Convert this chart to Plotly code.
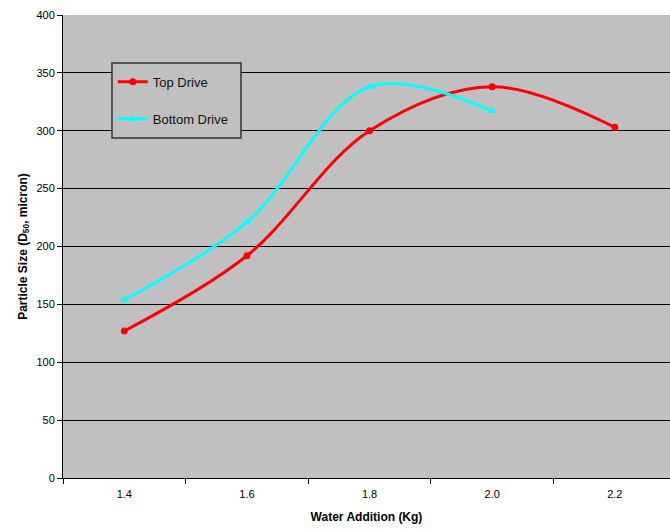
import plotly.graph_objects as go

categories = [1.4, 1.6, 1.8, 2.0, 2.2]
tick_labels = ["1.4", "1.6", "1.8", "2.0", "2.2"]
top_x = [1.4, 1.6, 1.8, 2.0, 2.2]
top_y = [127, 192, 300, 338, 303]
bottom_x = [1.4, 1.6, 1.8, 2.0]
bottom_y = [154, 221, 338, 317]

fig = go.Figure()
fig.add_trace(go.Scatter(
    x=top_x, y=top_y, name="Top Drive", mode="lines+markers",
    line=dict(color="#FF0000", width=3, shape="spline", smoothing=1.0),
    marker=dict(symbol="circle", size=7, color="#FF0000"),
    legendgroup="a",
))
fig.add_trace(go.Scatter(
    x=bottom_x, y=bottom_y, name="Bottom Drive", mode="lines+markers",
    line=dict(color="#00FFFF", width=3, shape="spline", smoothing=1.0),
    marker=dict(symbol="triangle-up", size=8, color="#00FFFF"),
    legendgroup="b",
))

# legend frame
fig.add_shape(type="rect", xref="paper", yref="paper",
              x0=0.0807, x1=0.2932, y0=0.7343, y1=0.8963,
              fillcolor="#C0C0C0", line=dict(color="#333333", width=1.5),
              layer="above")

font_family = "Liberation Sans, Arial, sans-serif"
fig.update_layout(
    width=670, height=529,
    margin=dict(l=63, r=0, t=15, b=51),
    paper_bgcolor="white", plot_bgcolor="#C0C0C0",
    font=dict(family=font_family, size=11, color="black"),
    showlegend=True,
    legend=dict(
        x=0.082, y=0.888, xanchor="left", yanchor="top",
        bgcolor="rgba(0,0,0,0)", borderwidth=0,
        font=dict(size=13, color="#111111"),
        tracegroupgap=17, itemwidth=30,
    ),
    xaxis=dict(
        range=[1.3, 2.29], tickvals=categories, ticktext=tick_labels,
        ticks="", showgrid=False, zeroline=False,
        showline=True, linecolor="black", linewidth=1,
        minor=dict(tickvals=[1.3, 1.5, 1.7, 1.9, 2.1], ticks="outside",
                   ticklen=5, tickcolor="black", showgrid=False),
        title=dict(text="<b>Water Addition (Kg)</b>", font=dict(size=12), standoff=13),
        ticklabelstandoff=6,
    ),
    yaxis=dict(
        range=[0, 400], dtick=50, ticks="outside", ticklen=5, tickcolor="black",
        showgrid=True, gridcolor="black", gridwidth=1, zeroline=False,
        showline=True, linecolor="black", linewidth=1,
        title=dict(text="<b>Particle Size (D<sub>50</sub>, micron)</b>", font=dict(size=12), standoff=6),
    ),
)

fig.write_html("out.html")
